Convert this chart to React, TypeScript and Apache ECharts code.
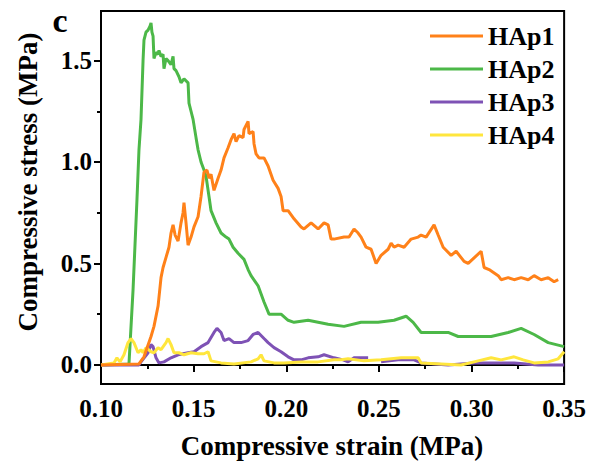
import React, { useEffect, useRef } from "react";
import * as echarts from "echarts";

const seriesNames = ["HAp1", "HAp2", "HAp3", "HAp4"];
const seriesColors = ["#FF8119", "#4CB848", "#7E52B5", "#FFE63D"];

const xTicks = [0.1, 0.15, 0.2, 0.25, 0.3, 0.35];
const yTicks = [0, 0.5, 1.0, 1.5];
const yMinorTicks = [0.25, 0.75, 1.25];

const hap1: number[][] = [
  [0.1, 0], [0.1205, 0.005], [0.1232, 0.04], [0.127, 0.14], [0.1286, 0.19], [0.1308, 0.29],
  [0.1324, 0.43], [0.1335, 0.48], [0.1351, 0.53], [0.1367, 0.58], [0.1378, 0.65], [0.1389, 0.69],
  [0.14, 0.64], [0.1416, 0.61], [0.1432, 0.7], [0.1443, 0.75], [0.1448, 0.8], [0.1459, 0.7],
  [0.147, 0.59], [0.1486, 0.63], [0.1502, 0.68], [0.1524, 0.73], [0.154, 0.83], [0.1556, 0.95],
  [0.1572, 0.96], [0.1583, 0.92], [0.1594, 0.94], [0.161, 0.86], [0.1632, 0.92], [0.1648, 0.96],
  [0.1664, 1.02], [0.1686, 1.07], [0.1702, 1.11], [0.1718, 1.14], [0.1729, 1.1], [0.1745, 1.13],
  [0.1767, 1.12], [0.1772, 1.16], [0.1794, 1.2], [0.1799, 1.14], [0.1821, 1.15], [0.1826, 1.09],
  [0.1837, 1.04], [0.1853, 1.02], [0.188, 1.02], [0.1902, 0.98], [0.1929, 0.91], [0.1956, 0.87],
  [0.1972, 0.83], [0.1983, 0.76], [0.201, 0.76], [0.2042, 0.72], [0.208, 0.68], [0.2096, 0.67],
  [0.2134, 0.7], [0.2172, 0.67], [0.2204, 0.7], [0.2226, 0.69], [0.2242, 0.62], [0.2258, 0.62],
  [0.2312, 0.63], [0.2339, 0.63], [0.2366, 0.67], [0.2388, 0.65], [0.2404, 0.63], [0.2431, 0.58],
  [0.2458, 0.57], [0.2485, 0.5], [0.2512, 0.54], [0.255, 0.57], [0.2566, 0.6], [0.2582, 0.58],
  [0.2604, 0.59], [0.2636, 0.58], [0.2674, 0.62], [0.2712, 0.63], [0.2728, 0.64], [0.2755, 0.63],
  [0.2798, 0.69], [0.282, 0.64], [0.2847, 0.58], [0.289, 0.54], [0.2917, 0.56], [0.296, 0.51],
  [0.2982, 0.5], [0.3052, 0.56], [0.3068, 0.48], [0.3095, 0.47], [0.3144, 0.44], [0.316, 0.42],
  [0.3198, 0.43], [0.323, 0.42], [0.3268, 0.43], [0.3306, 0.42], [0.3338, 0.44], [0.3376, 0.42],
  [0.3414, 0.43], [0.3446, 0.41], [0.3468, 0.42],
];

const hap2: number[][] = [
  [0.1, 0], [0.1151, 0.005], [0.1173, 0.37], [0.1194, 0.81], [0.1205, 1.06], [0.1216, 1.21],
  [0.1227, 1.5], [0.1232, 1.6], [0.1243, 1.64], [0.1254, 1.65], [0.1265, 1.67], [0.127, 1.685],
  [0.1275, 1.64], [0.1281, 1.62], [0.1286, 1.51], [0.1297, 1.54], [0.1308, 1.53], [0.1313, 1.55],
  [0.1324, 1.52], [0.1335, 1.53], [0.134, 1.46], [0.1351, 1.51], [0.1362, 1.5], [0.1378, 1.48],
  [0.1389, 1.52], [0.1394, 1.46], [0.1405, 1.45], [0.1421, 1.42], [0.1432, 1.39], [0.1448, 1.41],
  [0.147, 1.39], [0.1475, 1.29], [0.1486, 1.25], [0.1497, 1.21], [0.1513, 1.12], [0.1524, 1.06],
  [0.154, 1.0], [0.1556, 0.96], [0.1567, 0.93], [0.1583, 0.83], [0.1594, 0.76], [0.1621, 0.7],
  [0.1648, 0.65], [0.1675, 0.63], [0.1691, 0.62], [0.1713, 0.58], [0.174, 0.55], [0.1772, 0.52],
  [0.1794, 0.47], [0.181, 0.44], [0.1848, 0.39], [0.188, 0.31], [0.1907, 0.25], [0.1972, 0.25],
  [0.201, 0.22], [0.2042, 0.21], [0.2118, 0.22], [0.2172, 0.21], [0.2226, 0.2], [0.2312, 0.19],
  [0.2404, 0.21], [0.2496, 0.21], [0.2582, 0.22], [0.2647, 0.24], [0.2685, 0.21], [0.2728, 0.16],
  [0.2782, 0.16], [0.2874, 0.16], [0.2928, 0.14], [0.3014, 0.14], [0.3106, 0.14], [0.3198, 0.16],
  [0.3268, 0.18], [0.3338, 0.15], [0.3414, 0.11], [0.35, 0.09],
];

const hap3: (number | null)[][] = [
  [0.1, 0], [0.1205, 0], [0.1216, 0.015], [0.1254, 0.06], [0.127, 0.1], [0.1281, 0.09],
  [0.1297, 0.035], [0.1313, 0.01], [0.134, 0.015], [0.1378, 0.035], [0.1416, 0.05], [0.147, 0.06],
  [0.1502, 0.065], [0.154, 0.09], [0.1578, 0.11], [0.161, 0.16], [0.1626, 0.18], [0.1648, 0.16],
  [0.1664, 0.12], [0.1691, 0.13], [0.1718, 0.11], [0.1756, 0.11], [0.1794, 0.12], [0.1821, 0.15],
  [0.1848, 0.16], [0.188, 0.13], [0.1902, 0.11], [0.1934, 0.085], [0.1972, 0.065], [0.201, 0.04],
  [0.2042, 0.025], [0.208, 0.025], [0.2118, 0.035], [0.2172, 0.04], [0.2204, 0.05], [0.2258, 0.035],
  [0.2307, 0.025], [0.2334, 0.015], [0.2366, 0.035], [0.2404, 0.035], [0.2442, 0.035], [0.2475, null],
  [0.2512, 0.015], [0.2604, 0.025], [0.269, 0.025], [0.2728, 0.01], [0.2874, 0.0], [0.3014, 0.01],
  [0.3122, 0.01], [0.323, 0.01], [0.336, 0.0], [0.35, 0.0],
];

const hap4: number[][] = [
  [0.1, 0], [0.107, 0.01], [0.1086, 0.035], [0.1103, 0.015], [0.1124, 0.05], [0.1146, 0.11],
  [0.1162, 0.13], [0.1178, 0.11], [0.12, 0.06], [0.1216, 0.075], [0.1227, 0.06], [0.1243, 0.085],
  [0.127, 0.065], [0.1286, 0.06], [0.1308, 0.085], [0.1324, 0.075], [0.1351, 0.11], [0.1362, 0.13],
  [0.1378, 0.1], [0.1394, 0.06], [0.1421, 0.06], [0.1448, 0.05], [0.1486, 0.06], [0.1524, 0.055],
  [0.1556, 0.055], [0.1578, 0.065], [0.1594, 0.02], [0.1648, 0.01], [0.1718, 0.005], [0.181, 0.015],
  [0.1848, 0.03], [0.1864, 0.05], [0.188, 0.02], [0.1934, 0.01], [0.1988, 0.01], [0.208, 0.015],
  [0.2172, 0.015], [0.2258, 0.025], [0.2296, 0.025], [0.2334, 0.03], [0.242, 0.02], [0.2512, 0.025],
  [0.262, 0.035], [0.2674, 0.035], [0.2712, 0.035], [0.2728, 0.01], [0.2836, 0.005], [0.2944, 0.0],
  [0.3036, 0.02], [0.3106, 0.035], [0.316, 0.025], [0.323, 0.04], [0.3279, 0.025], [0.3338, 0.01],
  [0.3414, 0.015], [0.3468, 0.03], [0.35, 0.065],
];

const seriesData = [hap1, hap2, hap3, hap4];

const FONT = "'Liberation Serif', 'Times New Roman', serif";

export default function App() {
  const ref = useRef<HTMLDivElement>(null);
  useEffect(() => {
    if (!ref.current) return;
    const chart = echarts.init(ref.current, null, { renderer: "svg" });
    const labelStyle = {
      fontFamily: FONT,
      fontWeight: "bold" as const,
      fontSize: 25,
      color: "#000",
    };
    chart.setOption({
      animation: false,
      grid: {
        left: 101,
        top: 11,
        right: 24,
        bottom: 84,
        show: true,
        borderColor: "#000",
        borderWidth: 2,
        backgroundColor: "transparent",
      },
      legend: {
        orient: "vertical",
        left: 430,
        top: 23,
        padding: 0,
        icon: "rect",
        itemWidth: 53,
        itemHeight: 3,
        itemGap: 7,
        data: seriesNames,
        textStyle: {
          fontFamily: FONT,
          fontWeight: "bold",
          fontSize: 26,
          lineHeight: 26,
          color: "#000",
        },
      },
      xAxis: {
        type: "value",
        min: 0.1,
        max: 0.35,
        interval: 0.05,
        splitLine: { show: false },
        axisLine: { lineStyle: { color: "#000", width: 2 } },
        axisTick: { inside: false, length: 7, lineStyle: { color: "#000", width: 2 } },
        minorTick: { show: true, splitNumber: 2, length: 4, lineStyle: { color: "#000", width: 2 } },
        axisLabel: {
          ...labelStyle,
          margin: 12,
          customValues: xTicks,
          formatter: (v: number) => v.toFixed(2),
        },
      },
      yAxis: [
        {
          type: "value",
          min: -0.094,
          max: 1.744,
          position: "left",
          offset: 0,
          splitLine: { show: false },
          axisLine: { show: true, lineStyle: { color: "#000", width: 2 } },
          axisTick: {
            show: true,
            inside: false,
            length: 7,
            customValues: yTicks,
            lineStyle: { color: "#000", width: 2 },
          },
          axisLabel: {
            ...labelStyle,
            margin: 9,
            customValues: yTicks,
            formatter: (v: number) => v.toFixed(1),
          },
        },
        {
          type: "value",
          min: -0.094,
          max: 1.744,
          position: "left",
          offset: 0,
          splitLine: { show: false },
          axisLine: { show: false },
          axisTick: {
            show: true,
            inside: false,
            length: 4,
            customValues: yMinorTicks,
            lineStyle: { color: "#000", width: 2 },
          },
          axisLabel: { show: false },
        },
      ],
      series: seriesNames.map((name, i) => ({
        name,
        type: "line",
        data: seriesData[i],
        yAxisIndex: 0,
        showSymbol: false,
        symbol: "none",
        connectNulls: false,
        z: i === 0 ? 5 : 2,
        lineStyle: { color: seriesColors[i], width: 3 },
        itemStyle: { color: seriesColors[i] },
      })),
      graphic: [
        {
          type: "text",
          x: 60,
          y: 20,
          style: {
            text: "c",
            font: `bold 34px ${FONT}`,
            fill: "#000",
            align: "center",
            verticalAlign: "middle",
          },
        },
        {
          type: "text",
          x: 332,
          y: 446,
          style: {
            text: "Compressive strain (MPa)",
            font: `bold 27px ${FONT}`,
            fill: "#000",
            align: "center",
            verticalAlign: "middle",
          },
        },
        {
          type: "text",
          x: 28,
          y: 182,
          rotation: Math.PI / 2,
          style: {
            text: "Compressive stress (MPa)",
            font: `bold 27px ${FONT}`,
            fill: "#000",
            align: "center",
            verticalAlign: "middle",
          },
        },
      ],
    });
    return () => chart.dispose();
  }, []);
  return (
    <div
      ref={ref}
      style={{ position: "fixed", left: 0, top: 0, width: 589, height: 468, background: "#fff" }}
    />
  );
}
